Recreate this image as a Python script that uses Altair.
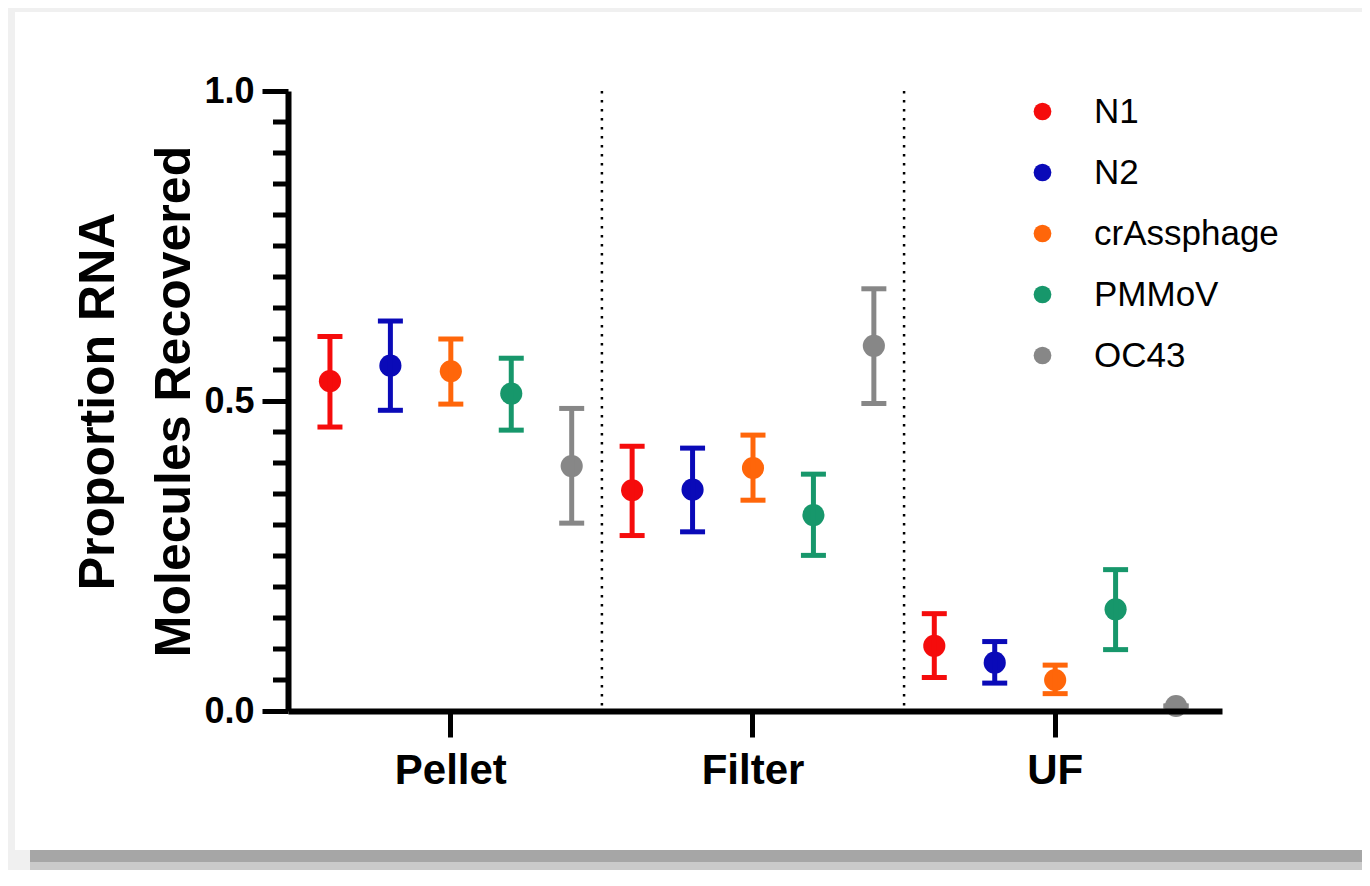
import altair as alt
import pandas as pd

# ---------------- data ----------------
groups = ["Pellet", "Filter", "UF"]
series = ["N1", "N2", "crAssphage", "PMMoV", "OC43"]

mean_pellet = [0.532, 0.557, 0.548, 0.512, 0.395]
low_pellet = [0.458, 0.485, 0.495, 0.453, 0.303]
high_pellet = [0.604, 0.629, 0.600, 0.569, 0.488]

mean_filter = [0.356, 0.357, 0.392, 0.316, 0.589]
low_filter = [0.283, 0.289, 0.340, 0.251, 0.496]
high_filter = [0.427, 0.424, 0.445, 0.382, 0.681]

mean_uf = [0.105, 0.078, 0.050, 0.164, 0.008]
low_uf = [0.054, 0.045, 0.028, 0.099, 0.008]
high_uf = [0.157, 0.112, 0.074, 0.228, 0.008]

point_colors = ["#f50c0c", "#0a0ab8", "#ff660a", "#17976b", "#878787"]

y_major_ticks = [0.0, 0.5, 1.0]
y_minor_ticks = [0.05, 0.10, 0.15, 0.20, 0.25, 0.30, 0.35, 0.40, 0.45,
                 0.55, 0.60, 0.65, 0.70, 0.75, 0.80, 0.85, 0.90, 0.95]
separator_groups = ["Filter", "UF"]

rows = []
for g, ms, los, his in zip(groups,
                           [mean_pellet, mean_filter, mean_uf],
                           [low_pellet, low_filter, low_uf],
                           [high_pellet, high_filter, high_uf]):
    for s, m, lo, hi in zip(series, ms, los, his):
        rows.append({"group": g, "series": s, "mean": m, "low": lo, "high": hi})
df = pd.DataFrame(rows)
minor_df = pd.DataFrame({"mean": y_minor_ticks})
sep_df = pd.DataFrame({"group": separator_groups})
one_df = pd.DataFrame({"k": [0]})

FONT = "Liberation Sans"
W, H = 934, 620

x_axis = alt.Axis(title=None, labelFont=FONT, labelFontSize=42, labelFontWeight="bold",
                  labelColor="black", labelAngle=0, labelPadding=13,
                  tickSize=26, tickWidth=5, tickColor="black",
                  domainWidth=6, domainColor="black", grid=False, zindex=1)
Y_TITLE = ["Proportion RNA", "Molecules Recovered"]
y_axis = alt.Axis(values=y_major_ticks, format=".1f",
                  labelFont=FONT, labelFontSize=36, labelFontWeight="bold",
                  labelColor="black", labelPadding=8,
                  tickSize=26, tickWidth=5, tickColor="black",
                  domainWidth=6, domainColor="black", grid=False,
                  title=Y_TITLE,
                  titleFont=FONT, titleFontSize=50, titleFontWeight="bold",
                  titleColor="black", titleLineHeight=76, titlePadding=4, zindex=1)

xscale = alt.Scale(paddingInner=0, paddingOuter=0.0455, align=0.427)
x_enc = alt.X("group:N", sort=groups, scale=xscale, axis=x_axis)
xoff = alt.XOffset("series:N", sort=series,
                   scale=alt.Scale(paddingInner=0, paddingOuter=0))
legend_def = alt.Legend(title=None, orient="none", legendX=737, legendY=3,
                        direction="vertical", symbolType="circle",
                        symbolSize=314, symbolOpacity=1, symbolStrokeWidth=0,
                        labelFont=FONT, labelFontSize=35, labelColor="black",
                        labelLimit=400, labelOffset=34, rowPadding=25,
                        padding=0, zindex=2)
col = alt.Color("series:N", sort=series,
                scale=alt.Scale(domain=series, range=point_colors), legend=legend_def)
yscale = alt.Scale(domain=[0, 1], nice=False, zero=True)


def yenc(field):
    return alt.Y(field, type="quantitative", scale=yscale, axis=y_axis, title=Y_TITLE)


# decorative card frame
card_bg = alt.Chart(one_df).mark_rect(color="white").encode(
    x=alt.value(-273), x2=alt.value(1074), y=alt.value(-79), y2=alt.value(759))
shadow1 = alt.Chart(one_df).mark_rect(color="#a6a6a6").encode(
    x=alt.value(-258), x2=alt.value(1074), y=alt.value(759), y2=alt.value(771))
shadow2 = alt.Chart(one_df).mark_rect(color="#cacaca").encode(
    x=alt.value(-258), x2=alt.value(1074), y=alt.value(771), y2=alt.value(779))

separators = alt.Chart(sep_df).mark_rule(
    strokeDash=[2.5, 6.5], strokeWidth=2.5, color="black").encode(
    x=alt.X("group:N", sort=groups, bandPosition=0, scale=xscale, axis=x_axis),
    y=alt.value(0), y2=alt.value(H))

points = alt.Chart(df).mark_point(filled=True, size=490, opacity=1).encode(
    x=x_enc, xOffset=xoff, y=yenc("mean"), color=col)
stems = alt.Chart(df).mark_rule(strokeWidth=5).encode(
    x=x_enc, xOffset=xoff, y=yenc("low"), y2="high:Q", color=col)
caps_hi = alt.Chart(df).mark_tick(thickness=5, size=25, opacity=1).encode(
    x=x_enc, xOffset=xoff, y=yenc("high"), color=col)
caps_lo = alt.Chart(df).mark_tick(thickness=5, size=25, opacity=1).encode(
    x=x_enc, xOffset=xoff, y=yenc("low"), color=col)

minor = alt.Chart(minor_df).mark_rule(strokeWidth=5, color="black").encode(
    y=yenc("mean"), x=alt.value(-15), x2=alt.value(0))

chart = alt.layer(card_bg, shadow1, shadow2, separators, points, stems, caps_hi, caps_lo,
                  minor).properties(
    width=W, height=H,
    autosize=alt.AutoSizeParams(type="none"),
    padding={"left": 280, "top": 83, "right": 140, "bottom": 159},
    background="#f0f0f0",
).configure_view(stroke=None)

chart.save("out.html", embed_options={"renderer": "svg", "actions": False})
